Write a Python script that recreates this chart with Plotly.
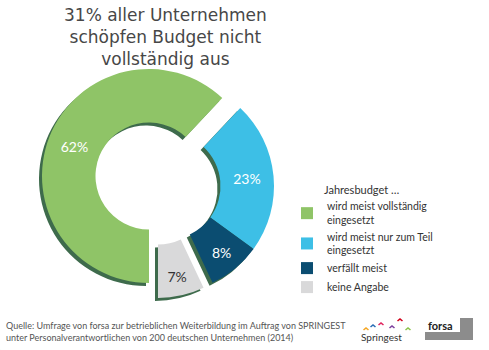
import plotly.graph_objects as go

W, H = 489, 350
def px(x): return x / W
def py(y): return 1 - y / H

# ---- data ----
labels = ["wird meist vollständig<br>eingesetzt", "wird meist nur zum Teil<br>eingesetzt",
          "verfällt meist", "keine Angabe"]
values = [62, 23, 8, 7]
title_lines = ["31% aller Unternehmen", "schöpfen Budget nicht", "vollständig aus"]
legend_title = "Jahresbudget …"
source_text = ("Quelle: Umfrage von forsa zur betrieblichen Weiterbildung im Auftrag von SPRINGEST<br>"
               "unter Personalverantwortlichen von 200 deutschen Unternehmen (2014)")

# ---- style ----
colors = ["#8fc467", "#3dbfe6", "#0b4d71", "#d9d9da"]
text_colors = ["white", "white", "white", "#333333"]
shadow_color = "#3e6b4c"
# exploded-slice centres (pixels) – purely presentational
centers = [(149, 176), (167, 186), (167, 186), (158, 191)]
R = 107
hole = 0.5
shadow_off = (-3, 3)
CLEAR = "rgba(0,0,0,0)"

fig = go.Figure()

def dom(cx, cy):
    return dict(x=[px(cx - R), px(cx + R)], y=[py(cy + R), py(cy - R)])

common = dict(values=values, sort=False, direction="clockwise", rotation=180, hole=hole,
              showlegend=False)

# shadows
for i, (cx, cy) in enumerate(centers):
    fig.add_trace(go.Pie(
        labels=labels, **common,
        marker=dict(colors=[shadow_color if j == i else CLEAR for j in range(len(values))],
                    line=dict(width=0)),
        textinfo="none", hoverinfo="skip",
        domain=dom(cx + shadow_off[0], cy + shadow_off[1]),
    ))

# slices
for i, (cx, cy) in enumerate(centers):
    fig.add_trace(go.Pie(
        labels=labels, **common,
        marker=dict(colors=[colors[j] if j == i else CLEAR for j in range(len(values))],
                    line=dict(width=0)),
        texttemplate=["%{value}%" if j == i else "" for j in range(len(values))],
        textposition="inside", insidetextorientation="horizontal",
        textfont=dict(family="Lato", size=14, color=text_colors),
        hoverinfo="skip",
        domain=dom(cx, cy),
    ))

# legend carrier (tiny, invisible pie)
fig.add_trace(go.Pie(
    labels=labels, values=values, sort=False, direction="clockwise", rotation=180,
    marker=dict(colors=colors, line=dict(width=0)), textinfo="none", hoverinfo="skip",
    showlegend=True, domain=dict(x=[0, 0.0005], y=[0, 0.0005]),
))

shapes = []
# forsa logo box
shapes.append(dict(type="rect", xref="paper", yref="paper", x0=px(425), x1=px(473), y0=py(340), y1=py(318),
                   fillcolor="#8c8c8c", line=dict(width=0), layer="below"))
shapes.append(dict(type="rect", xref="paper", yref="paper", x0=px(425), x1=px(460), y0=py(332), y1=py(318),
                   fillcolor="white", line=dict(width=0)))
# springest arrows
arrow_cols = ["#f5a623", "#2a6db5", "#e0245e", "#7b3f9e", "#d0021b", "#8bc34a"]
arrow_pos = [(366, 328), (373, 325), (381, 323), (392, 326), (400, 319), (408, 328)]
for (ax_, ay_), c in zip(arrow_pos, arrow_cols):
    shapes.append(dict(type="path", xref="paper", yref="paper",
                       path=f"M {px(ax_-2.5)},{py(ay_+2)} L {px(ax_)},{py(ay_)} L {px(ax_+2.5)},{py(ay_+2)}",
                       line=dict(color=c, width=1.6)))

annotations = [
    dict(text="<br>".join(title_lines), x=px(165), y=py(3), xref="paper", yref="paper",
         xanchor="center", yanchor="top", showarrow=False, align="center",
         font=dict(family="DejaVu Sans", size=17, color="#474747")),
    dict(text=legend_title, x=px(322), y=py(190), xref="paper", yref="paper", xanchor="left", yanchor="middle",
         showarrow=False, font=dict(family="Lato", size=11, color="#333333")),
    dict(text=source_text, x=px(4), y=py(345), xref="paper", yref="paper", xanchor="left", yanchor="bottom",
         showarrow=False, align="left", font=dict(family="Lato", size=9, color="#555555")),
    dict(text="Springest", x=px(381), y=py(337), xref="paper", yref="paper", xanchor="center", yanchor="middle",
         showarrow=False, font=dict(family="Lato", size=10, color="#333333")),
    dict(text="<b>forsa</b>", x=px(426), y=py(325), xref="paper", yref="paper", xanchor="left", yanchor="middle",
         showarrow=False, font=dict(family="Lato", size=11, color="#222222")),
]

fig.update_layout(
    width=W, height=H, margin=dict(l=0, r=0, t=0, b=0),
    paper_bgcolor="white", plot_bgcolor="white",
    shapes=shapes, annotations=annotations,
    legend=dict(x=px(287), y=py(193), xanchor="left", yanchor="top",
                font=dict(family="Lato", size=10.5, color="#333333"),
                itemwidth=30, bgcolor="rgba(0,0,0,0)"),
)
fig.write_html("out.html")
